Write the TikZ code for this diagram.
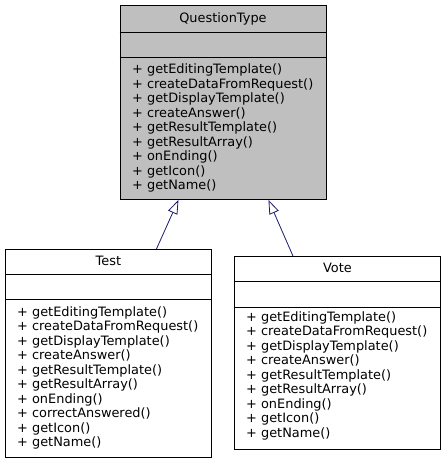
\documentclass[tikz,border=0pt]{standalone}
\usepackage{fontspec}
\setmainfont{DejaVu Sans}
\usetikzlibrary{arrows.meta,calc}
\definecolor{edgeblue}{HTML}{191970}
\definecolor{basegray}{HTML}{BFBFBF}
\begin{document}
\begin{tikzpicture}[x=1pt,y=1pt,
  classbox/.style={draw=black, line width=0.9pt, inner sep=0pt, anchor=north west, minimum width=206pt},
  sepline/.style={draw=black, line width=0.9pt},
  titletext/.style={inner sep=0pt, anchor=base, font=\fontsize{12.9}{14.5}\selectfont},
  memtext/.style={inner sep=0pt, anchor=base west, align=left, font=\fontsize{12.9}{14.5}\selectfont},
  inherit/.style={draw=edgeblue, line width=0.8pt, -{Triangle[open, length=14pt, width=10pt]}}
]
\useasboundingbox (0,0) rectangle (445,-463);

% QuestionType
\node[classbox, fill=basegray, minimum height=194pt] (qt) at (119.5,-5) {};
\draw[sepline] ($(qt.north west)+(0,-27)$) -- ($(qt.north east)+(0,-27)$);
\draw[sepline] ($(qt.north west)+(0,-52)$) -- ($(qt.north east)+(0,-52)$);
\node[titletext] (qtt) at ($(qt.north)+(0,-17)$) {QuestionType};
\node[memtext] (qtm) at ($(qt.north west)+(12.5,-184.5)$) {+ getEditingTemplate()\\+ createDataFromRequest()\\+ getDisplayTemplate()\\+ createAnswer()\\+ getResultTemplate()\\+ getResultArray()\\+ onEnding()\\+ getIcon()\\+ getName()};

% Test
\node[classbox, fill=white, minimum height=208pt] (test) at (5,-249) {};
\draw[sepline] ($(test.north west)+(0,-25)$) -- ($(test.north east)+(0,-25)$);
\draw[sepline] ($(test.north west)+(0,-50)$) -- ($(test.north east)+(0,-50)$);
\node[titletext] (testt) at ($(test.north)+(0,-16)$) {Test};
\node[memtext] (testm) at ($(test.north west)+(12,-197.5)$) {+ getEditingTemplate()\\+ createDataFromRequest()\\+ getDisplayTemplate()\\+ createAnswer()\\+ getResultTemplate()\\+ getResultArray()\\+ onEnding()\\+ correctAnswered()\\+ getIcon()\\+ getName()};

% Vote
\node[classbox, fill=white, minimum height=193pt] (vote) at (234,-256) {};
\draw[sepline] ($(vote.north west)+(0,-25)$) -- ($(vote.north east)+(0,-25)$);
\draw[sepline] ($(vote.north west)+(0,-51)$) -- ($(vote.north east)+(0,-51)$);
\node[titletext] (votet) at ($(vote.north)+(0,-16)$) {Vote};
\node[memtext] (votem) at ($(vote.north west)+(12,-181)$) {+ getEditingTemplate()\\+ createDataFromRequest()\\+ getDisplayTemplate()\\+ createAnswer()\\+ getResultTemplate()\\+ getResultArray()\\+ onEnding()\\+ getIcon()\\+ getName()};

% inheritance
\draw[inherit] ($(test.north west)!0.732!(test.north east)$) -- ($(qt.south west)!0.285!(qt.south east)$);
\draw[inherit] ($(vote.north west)!0.285!(vote.north east)$) -- ($(qt.south west)!0.72!(qt.south east)$);
\end{tikzpicture}
\end{document}
